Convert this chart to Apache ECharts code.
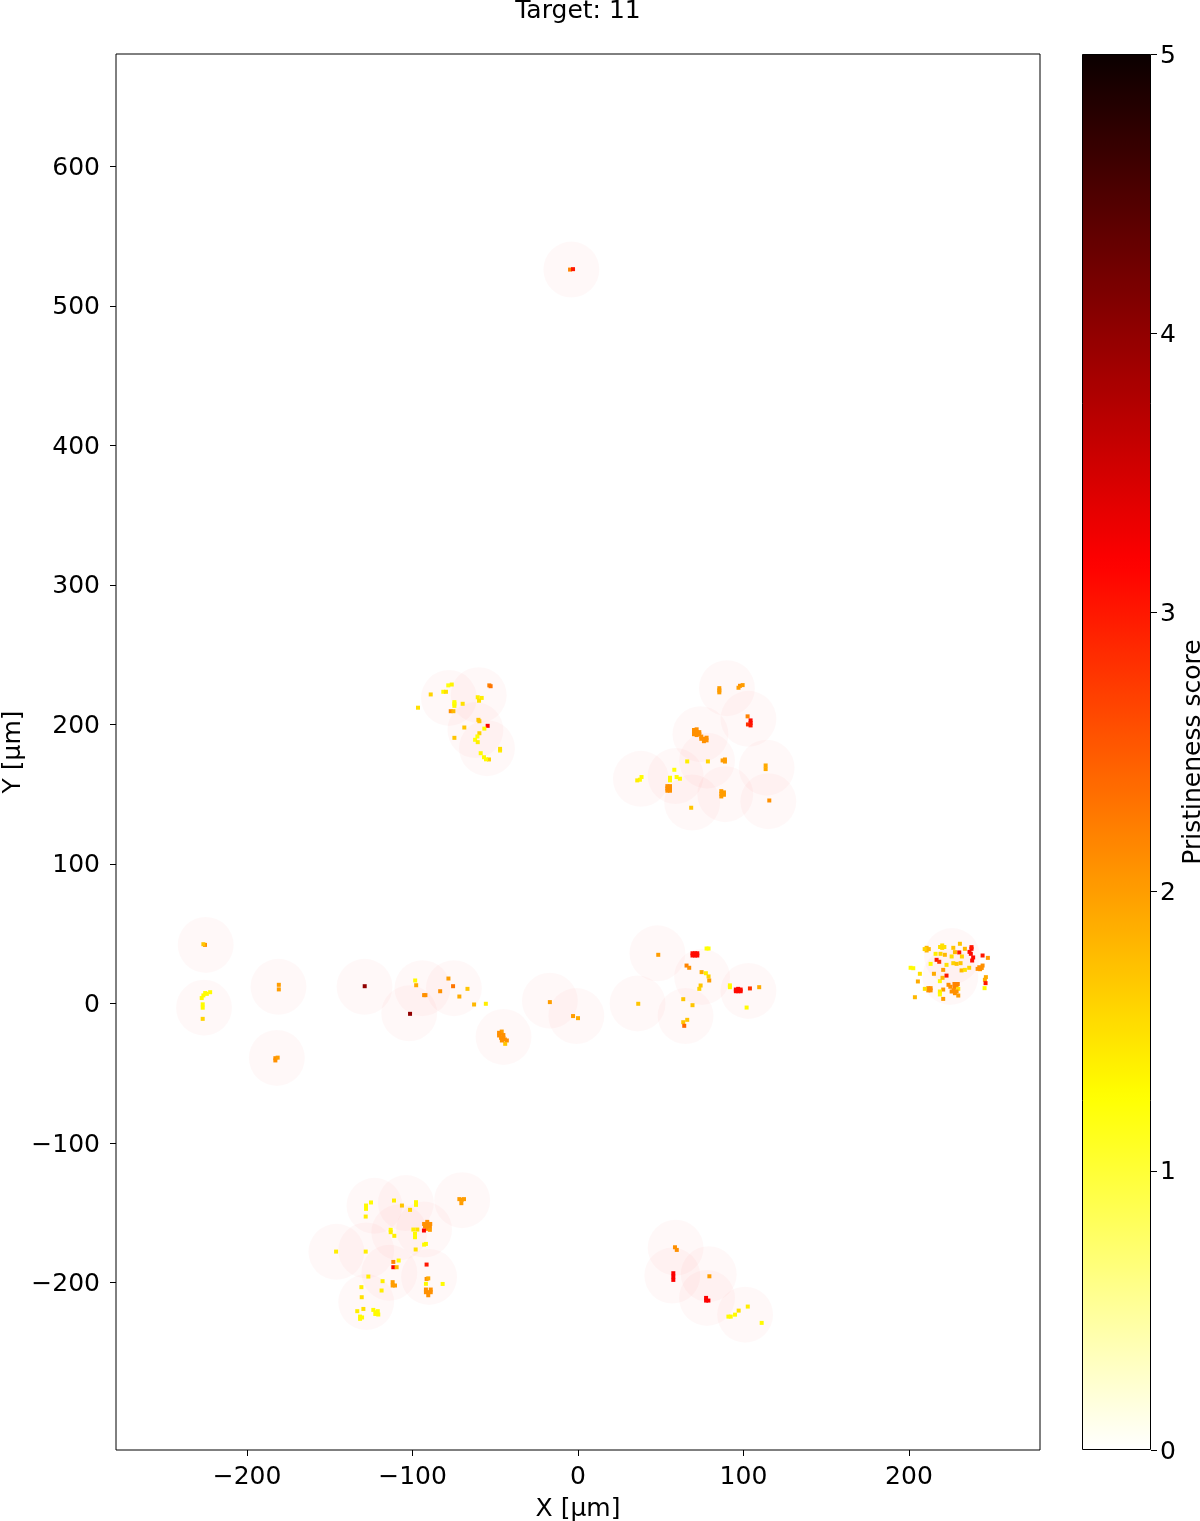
<!DOCTYPE html>
<html>
<head>
<meta charset="utf-8">
<style>html,body{margin:0;padding:0;background:#fff}#c{width:1200px;height:1521px}</style>
<script src="https://cdn.jsdelivr.net/npm/echarts@6/dist/echarts.min.js"></script>
</head>
<body>
<div id="c"></div>
<script>
const titleText = 'Target: 11';
const xName = 'X [µm]';
const yName = 'Y [µm]';
const barName = 'Pristineness score';
const xTicks = [-200, -100, 0, 100, 200];
const yTicks = [-200, -100, 0, 100, 200, 300, 400, 500, 600];
const barTicks = [0, 1, 2, 3, 4, 5];

// field-of-view centres [x, y] in µm
const fields = [
[-4,526],[-78,219],[-60,221],[-62,196],[-55,183],
[90,226],[103,204],[74,193],[78,174],[114,169],[38,161],[59,163],[69,144],[89,150],[115,145],
[226,34],[225,19],
[48,36],[75,19],[36,0],[65,-9],[103,9],
[-129,12],[-94,11],[-102,-7],[-75,11],[-45,-24],[-17,2],[-1,-9],
[-225,42],[-226,-3],[-181,12],[-182,-39],
[-70,-141],[-123,-145],[-104,-143],[-108,-164],[-93,-162],[-146,-178],[-128,-177],[-114,-193],[-90,-196],[-128,-214],
[59,-175],[57,-195],[79,-194],[78,-211],[101,-223]
];

// scored cells [x, y, score]
const cellsTop = [[-4.8,526,2.2],[-3,526.3,3]];
const cellsUpperLeft = [
[-78.4,228,1.2],[-76.3,228.6,1.35],[-81.4,223.4,1.3],[-79.8,223.4,1.5],[-89,221.5,1.6],[-96.7,212,1.5],
[-74.7,214.8,1.25],[-74.7,216,1.25],[-74.7,213.3,1.3],[-69.7,214.8,1.5],[-76.9,209.5,2.1],[-75.3,209.5,1.8],
[-53.6,228,2.2],[-52.8,227.4,2.3],[-60.6,219.5,1.4],[-58.2,219,1.4],[-59.8,217,1.5],[-60.2,203.3,1.7],[-59.6,202.3,1.7],
[-54.6,199,3.2],[-56.6,197,1.3],[-68.7,197.8,1.7],[-74.7,190.4,1.7],[-59.6,193.7,1.6],[-60.8,191.4,1.25],[-62.2,189,1.25],[-60.6,187.3,1.4],
[-58.8,179.4,1.3],[-56.8,176.5,1.3],[-53.8,174.9,1.6],[-55.6,175,1.3],[-47.1,181.3,1.4],[-47.1,182.5,1.5]
];
const cellsUpperRight = [
[85.4,224.4,2],[85.4,226,2],[85.4,223,2],[97.9,227.7,2.1],[99.5,228.2,2],[97,226.3,2],
[102.5,205.8,2.2],[104.3,201,3.1],[104.3,202.9,3.1],[102.7,200,2.8],[104.3,199.3,3],
[71.7,194.5,2.1],[70.1,194.5,2.1],[73.3,194.5,2.1],[71.7,192.4,2.1],[71.7,196.5,2.1],[70.1,196,2.1],[73.3,193,2.1],[70.1,193,2.1],
[76.1,189.7,2.1],[74.5,189.7,2.1],[77.7,190.5,2.1],[76.1,188,2.1],[74.5,191.3,2.1],[77.7,188.6,2.1],[88.8,174.9,2],[87.4,174.2,2],[88.8,173.4,2],
[66,173.5,1.4],[78.5,173.5,1.6],[113.4,170.6,1.9],[113.4,168,1.9],
[37.4,160.4,1.3],[35.8,159.9,1.4],[38.4,162.3,1.3],[58.2,167.5,1.25],[55.6,161.8,1.3],[55.6,159.9,1.3],[59.6,162.3,1.3],[61.6,161.1,1.3],
[55.6,154.1,2.1],[54,154.1,2.1],[55.6,155.8,2.1],[55.6,152.5,2.1],[54,152.5,2.1],[54,155.8,2.1],[68.4,140.3,1.7],
[86.6,150.3,2],[86.6,148.4,2],[88.2,151.3,2],[86.6,152.2,2],[88.2,149.6,2],[115.6,145.5,2.1]
];
const cellsRight = [
[237.8,39.2,3.1],[237.4,35.6,3.1],[238.2,30.8,3.1],[237.8,40.4,3],[236.6,37,3.1],[238.8,33,3.1],[210.7,39.9,1.8],[210.7,38,1.8],[212,39,1.8],[209.5,39,1.6],[220.1,41.6,1.5],[220.1,39.9,1.6],[221.4,40.5,1.5],[218.8,40.5,1.5],
[230.8,42.8,1.7],[233.8,39.2,1.8],[226.8,39.9,1.7],[230.4,36.6,3],[227.8,36.8,1.8],[216.1,35.6,1.4],[221.7,34.9,1.8],[219.1,35.6,1.6],
[225.8,33.7,1.5],[232,33.7,1.6],[216.7,31.3,3],[218.3,29.9,2.8],[213.1,28.4,1.3],[222.7,27.7,1.5],[220.7,24.1,2],[215.1,21.3,1.9],
[231.8,23.7,1.8],[233.8,24.1,1.5],[236.4,25.6,1.6],[226.8,28.9,1.6],[228.8,28.4,1.7],[231.2,28.9,1.7],[242.5,26,2.1],[244.5,27.2,2.1],[243,24.6,2.1],[241.5,24.8,2.1],[244,25.5,2.1],
[244.5,34.4,3],[247.7,32.7,2],[201,25.6,1.3],[202.6,25.3,1.3],[206.6,21.3,1.5],[205.4,15.8,1.9],[246.5,18.9,1.9],[245.9,17,1.9],[246.3,14.6,3],
[218.7,16,1.3],[220.3,18.4,1.8],[222.7,20,3],[223.9,13.4,2.1],[225,12,2.1],[228.8,12.9,2.2],[227.5,11.5,2.2],[229.5,14,2.2],[227.5,14,2.2],[229.8,10.5,1.5],[213.1,11,2.1],[213.1,9.4,2.1],[211.7,11,2.1],[211.7,9.4,2.1],
[220.7,10,2],[218.7,8.6,1.4],[218.7,6.5,1.3],[225.8,8.6,2.1],[227,9.5,2.1],[228.8,8.6,2.1],[227.8,7.4,2.1],[229.8,5.7,2],[220.7,3.3,2],[245.7,11,1.3],[203.6,4.5,1.8],[209.6,10.5,1.5]
];
const cellsCentre = [
[48.5,34.9,2],[70.7,34.4,3.1],[69.2,34.4,3.1],[72.1,34.4,3.1],[70.7,36,3.1],[69.2,36,3.1],[72.1,36,3.1],[77.7,39.4,1.25],[78.9,39.4,1.25],
[65.6,27.2,2.2],[67.2,25.6,2.1],[74.7,22.5,1.9],[77.3,21.7,1.4],[78.9,19.4,1.6],[79.3,16.5,2],[74.1,12.9,1.7],[73.3,10.5,1.6],
[91.8,11.7,1.3],[91.8,13,1.3],[96.8,8.8,3.1],[95.4,8.8,3.1],[98.3,8.8,3.1],[96.8,10.5,3.1],[95.4,10,3.1],[98.3,10,3.1],[103.9,10.8,2.8],[109.5,11.7,1.9],[101.9,-2.9,1.3],
[36.4,-0.2,1.7],[63.6,3.1,1.7],[69.2,-1.2,1.7],[63.6,-13.4,1.7],[66,-11.7,1.7],[64.2,-16,2.4],[-17,1,2],[-3,-9,2],[0,-10.5,1.9]
];
const cellsMiddle = [
[-128.9,12.4,4],[-98.4,16.5,1.3],[-97.8,13.1,1.9],[-92.2,6,2.1],[-93,6,2.1],[-83.3,8.8,2.1],[-101.5,-7.4,4],[-78.3,17.9,2],[-75.5,12.4,2.3],
[-71.7,5,1.9],[-66.8,10.5,1.7],[-62.8,-0.7,1.8],[-55.7,-0.2,1.4],
[-46.5,-21.7,2.1],[-47.7,-22.9,2.1],[-45.1,-24.6,2.1],[-46.5,-24.6,2.1],[-43,-26.5,2.1],[-44,-28.9,1.7],[-46.1,-20.1,2],[-47.7,-21,2.1],[-45.1,-22.6,2.1],[-44.2,-25.8,2.1],[-46,-26.5,2.1]
];
const cellsLeft = [
[-225.4,42,2.1],[-226.4,42.5,1.7],[-224.3,6.9,1.3],[-226.4,5.8,1.3],[-227.4,3.9,1.3],[-222.3,8.1,1.3],[-225.3,7.5,1.3],[-226.8,-3,1.3],[-226.8,-0.6,1.3],[-226.8,-11,1.6],
[-180.8,13.4,2],[-180.8,10.1,2],[-182.9,-39.2,2.1],[-182.9,-40.8,2.1],[-181.5,-38.8,2]
];
const cellsLower = [
[-70.3,-140.7,2],[-71.7,-140.2,2],[-68.9,-140.2,2],[-70.5,-143.1,2],[-125.1,-142.6,1.3],[-128.1,-144.8,1.3],[-128.1,-147.2,1.3],[-128.3,-152.7,1.4],
[-111.2,-141.2,1.4],[-106.4,-144.8,1.7],[-97.9,-142.4,1.3],[-97.9,-144.3,1.3],[-101.5,-147.9,1.6],
[-91.1,-157.9,2.1],[-92.5,-159.8,2.1],[-89.5,-159.8,2.1],[-91.1,-161.5,2.1],[-93.1,-162.7,3.2],[-89.5,-162.2,2],[-91.1,-159.8,2.1],[-93,-158,2.1],[-89.3,-158,2.1],[-91.1,-156.5,2.1],
[-113.2,-162.2,1.3],[-113.2,-163.9,1.4],[-111,-166.5,1.4],[-99.5,-162,1.4],[-97.1,-162,1.5],[-98.5,-165.1,1.3],[-98.5,-167.5,1.3],[-91.9,-172.3,1.3],[-93,-172.8,1.3],
[-98.1,-176.3,1.5],[-128.3,-177.8,1.4],[-146.2,-177.8,1.4],[-108.4,-184.2,1.3],[-111.6,-185.2,2.2],[-111.6,-189,3.2],[-109.6,-189,1.8],[-91.5,-187.1,3],
[-91.5,-197.4,2.1],[-91.9,-200.9,1.3],[-90.5,-197,1.9],[-90.5,-206.9,2.1],[-91.9,-206.9,2.1],[-89,-206.9,2.1],[-90.5,-209.1,2.1],[-91.9,-205,2.1],[-89,-205,2.1],[-81.8,-201,1.3],
[-126.7,-195.7,1.4],[-118.1,-199,1.4],[-112,-202.1,2],[-112,-199.7,2],[-110.6,-202.1,2],[-118.7,-205.7,1.4],[-130.9,-203.3,1.4],[-130.7,-210.5,1.5],
[-122.1,-221.3,1.3],[-123.7,-219.6,1.3],[-120.7,-222.9,1.3],[-121,-220.5,1.3],[-122.5,-222.5,1.3],[-131.7,-224.4,1.3],[-131.7,-226,1.3],[-130.5,-225,1.3],[-133.4,-220.5,1.4],[-129.7,-218.9,1.5]
];
const cellsLowerRight = [
[58.6,-174.7,2.1],[59.7,-176.6,2.1],[57.6,-193.3,3.2],[57.6,-195.7,3.2],[57.6,-198.1,3.2],[79.4,-195.5,2],[77.4,-211,3.2],[77.4,-212.9,3.2],[78.8,-212.9,3.2],
[92.3,-224.4,1.3],[94.9,-223,1.3],[97.1,-220.1,1.5],[90.9,-224.4,1.3],[102.6,-217.2,1.4],[111,-228.9,1.3]
];
const cells = [].concat(cellsTop, cellsUpperLeft, cellsUpperRight, cellsRight, cellsCentre, cellsMiddle, cellsLeft, cellsLower, cellsLowerRight);

// reversed "hot" colour map over the 0–5 score range
function hotR(s) {
  const t = 1 - s / 5;
  const cl = v => Math.max(0, Math.min(1, v));
  const r = cl(0.0416 + (1 - 0.0416) * t / 0.365);
  const g = cl((t - 0.365) / 0.381);
  const b = cl((t - 0.746) / 0.254);
  return 'rgb(' + [r, g, b].map(v => Math.round(v * 255)).join(',') + ')';
}
const mapColors = [];
for (let i = 0; i <= 100; i++) mapColors.push(hotR(i * 0.05));
const barStops = mapColors.map((c, i) => ({ offset: 1 - i / 100, color: c }));

const font = 'DejaVu Sans';
const lab = { fontFamily: font, fontSize: 25, color: '#000' };
const tickLab = { fontFamily: font, fontSize: 25, color: '#000', verticalAlign: 'top', lineHeight: 4 };
const minus = v => String(v).replace('-', '\u2212');
const axisLine = { show: false, onZero: false };
const tick = { show: true, length: 6, lineStyle: { color: '#000', width: 1 } };

const chart = echarts.init(document.getElementById('c'), null, { renderer: 'canvas' });
chart.setOption({
  animation: false,
  backgroundColor: '#fff',
  title: { text: titleText, left: 578, top: -1, padding: 0, textAlign: 'center',
    textStyle: { fontFamily: font, fontSize: 25, fontWeight: 'normal', color: '#000' } },
  grid: [
    { left: 116, top: 54, width: 924, height: 1396, outerBoundsMode: 'none', containLabel: false, show: true, borderColor: '#000', borderWidth: 1, backgroundColor: '#fff' },
    { left: 1082, top: 54, width: 69, height: 1396, outerBoundsMode: 'none', containLabel: false }
  ],
  xAxis: [
    { type: 'value', gridIndex: 0, min: -279.2, max: 279.2, name: xName, nameLocation: 'middle', nameGap: 47, nameMoveOverlap: false,
      nameTextStyle: lab, splitLine: { show: false }, axisLine,
      axisTick: Object.assign({ customValues: xTicks }, tick),
      axisLabel: Object.assign({}, lab, { customValues: xTicks, formatter: minus, margin: 15 }) },
    { type: 'category', gridIndex: 1, data: [''], show: false }
  ],
  yAxis: [
    { type: 'value', gridIndex: 0, min: -320, max: 680.5, name: yName, nameLocation: 'middle', nameGap: 90, nameMoveOverlap: false, nameTextStyle: lab,
      splitLine: { show: false }, axisLine,
      axisTick: Object.assign({ customValues: yTicks }, tick),
      axisLabel: Object.assign({}, tickLab, { customValues: yTicks, formatter: minus, margin: 16 }) },
    { type: 'value', gridIndex: 1, min: 0, max: 5, position: 'right', name: barName, nameLocation: 'middle', nameGap: 30, nameMoveOverlap: false,
      nameRotate: 90, nameTextStyle: lab, splitLine: { show: false }, axisLine,
      axisTick: Object.assign({ customValues: barTicks }, tick),
      axisLabel: Object.assign({}, tickLab, { customValues: barTicks, margin: 9 }) }
  ],
  visualMap: { show: false, type: 'continuous', seriesIndex: 1, dimension: 2, min: 0, max: 5, inRange: { color: mapColors } },
  series: [
    { type: 'scatter', xAxisIndex: 0, yAxisIndex: 0, data: fields, symbol: 'circle', symbolSize: 56, silent: true,
      itemStyle: { color: 'rgba(255,0,0,0.035)' }, z: 2 },
    { type: 'scatter', xAxisIndex: 0, yAxisIndex: 0, data: cells, symbol: 'rect', symbolSize: 4, silent: true, z: 3, itemStyle: { opacity: 1 } },
    { type: 'bar', xAxisIndex: 1, yAxisIndex: 1, data: [5], barWidth: '100%', silent: true,
      itemStyle: { borderColor: '#000', borderWidth: 1,
        color: new echarts.graphic.LinearGradient(0, 0, 0, 1, barStops) } }
  ]
});
</script>
</body>
</html>
